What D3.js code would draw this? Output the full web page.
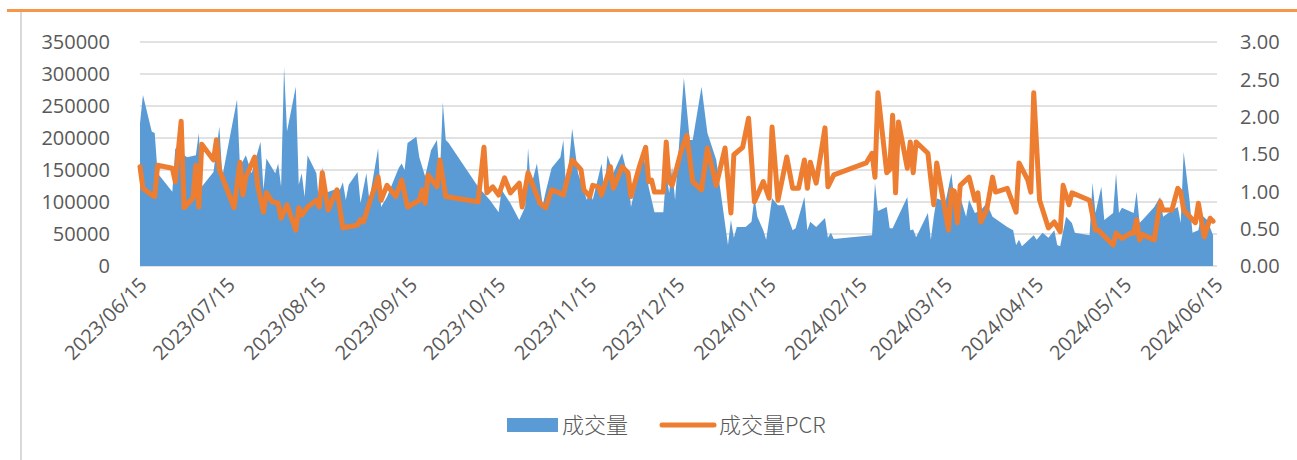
<!DOCTYPE html>
<html>
<head>
<meta charset="utf-8">
<script src="https://cdn.jsdelivr.net/npm/d3@7"></script>
<style>
	body { margin: 0; background: #ffffff; }
	.pcr-chart-tick { font-family: "Open Sans", "Noto Sans", sans-serif; font-size: 20px; fill: #595959; }
	.pcr-chart-legend { font-family: "Noto Sans CJK SC", "Open Sans", sans-serif; font-size: 22px; font-weight: 300; fill: #595959; }
</style>
</head>
<body>
<svg id="chart" width="1297" height="460"></svg>
<script>

var aVolumeDates = [
	'2023-06-15','2023-06-16','2023-06-19','2023-06-20','2023-06-21','2023-06-26','2023-06-27','2023-07-01','2023-07-04','2023-07-05',
	'2023-07-06','2023-07-10','2023-07-12','2023-07-13','2023-07-18','2023-07-19','2023-07-21','2023-07-23','2023-07-26','2023-07-27',
	'2023-07-28','2023-07-31','2023-08-01','2023-08-02','2023-08-03','2023-08-04','2023-08-07','2023-08-08','2023-08-09','2023-08-10',
	'2023-08-11','2023-08-14','2023-08-15','2023-08-16','2023-08-17','2023-08-20','2023-08-22','2023-08-23','2023-08-24','2023-08-25',
	'2023-08-28','2023-08-29','2023-08-31','2023-09-01','2023-09-04','2023-09-05','2023-09-07','2023-09-11','2023-09-12','2023-09-13',
	'2023-09-14','2023-09-17','2023-09-18','2023-09-20','2023-09-22','2023-09-24','2023-09-25','2023-09-26','2023-09-27','2023-09-28',
	'2023-10-08','2023-10-12','2023-10-15','2023-10-16','2023-10-19','2023-10-22','2023-10-24','2023-10-25','2023-10-26','2023-10-28',
	'2023-10-30','2023-10-31','2023-11-02','2023-11-05','2023-11-06','2023-11-07','2023-11-09','2023-11-11','2023-11-14','2023-11-15',
	'2023-11-16','2023-11-19','2023-11-20','2023-11-21','2023-11-23','2023-11-26','2023-11-28','2023-11-29','2023-12-01','2023-12-03',
	'2023-12-05','2023-12-07','2023-12-10','2023-12-11','2023-12-12','2023-12-13','2023-12-14','2023-12-17','2023-12-19','2023-12-20',
	'2023-12-23','2023-12-25','2023-12-28','2024-01-01','2024-01-02','2024-01-03','2024-01-04','2024-01-07','2024-01-09','2024-01-10',
	'2024-01-11','2024-01-13','2024-01-14','2024-01-16','2024-01-18','2024-01-20','2024-01-23','2024-01-24','2024-01-27','2024-01-28',
	'2024-01-29','2024-01-31','2024-02-03','2024-02-04','2024-02-05','2024-02-06','2024-02-19','2024-02-20','2024-02-21','2024-02-24',
	'2024-02-25','2024-02-26','2024-03-02','2024-03-03','2024-03-04','2024-03-05','2024-03-09','2024-03-10','2024-03-11','2024-03-12',
	'2024-03-15','2024-03-17','2024-03-18','2024-03-19','2024-03-20','2024-03-22','2024-03-23','2024-03-25','2024-03-27','2024-03-29',
	'2024-03-31','2024-04-05','2024-04-07','2024-04-08','2024-04-09','2024-04-10','2024-04-14','2024-04-15','2024-04-17','2024-04-19',
	'2024-04-21','2024-04-22','2024-04-23','2024-04-25','2024-04-27','2024-04-28','2024-05-03','2024-05-04','2024-05-05','2024-05-07',
	'2024-05-08','2024-05-11','2024-05-12','2024-05-13','2024-05-14','2024-05-18','2024-05-19','2024-05-20','2024-05-22','2024-05-25',
	'2024-05-27','2024-05-28','2024-05-31','2024-06-02','2024-06-03','2024-06-04','2024-06-06','2024-06-07','2024-06-09','2024-06-10',
	'2024-06-12','2024-06-14'
];

var aVolume = [
	223000,267000,210000,208000,145000,116000,184000,170000,173000,208000,
	124000,147000,218000,140000,260000,155000,173000,145000,194000,119000,
	168000,145000,160000,124000,311000,210000,280000,127000,145000,108000,
	173000,145000,92000,155000,114000,119000,119000,131000,103000,127000,
	147000,98000,145000,103000,184000,92000,108000,153000,160000,150000,
	192000,202000,170000,140000,181000,197000,140000,256000,197000,192000,
	124000,103000,84000,119000,98000,72000,92000,184000,124000,160000,
	95000,116000,153000,170000,197000,114000,215000,145000,103000,119000,
	103000,160000,114000,173000,145000,176000,139000,92000,134000,181000,
	124000,84000,84000,145000,114000,155000,103000,294000,197000,197000,
	280000,208000,166000,33000,72000,44000,61000,61000,69000,108000,
	77000,56000,41000,106000,95000,95000,56000,59000,108000,56000,
	69000,61000,75000,44000,52000,42000,48000,130000,86000,92000,
	59000,59000,108000,56000,57000,45000,83000,41000,77000,106000,
	100000,145000,103000,83000,108000,77000,103000,83000,87000,98000,
	77000,61000,56000,33000,41000,31000,48000,41000,52000,44000,
	56000,33000,31000,77000,67000,52000,48000,130000,83000,124000,
	72000,83000,145000,83000,91000,83000,116000,67000,77000,92000,
	108000,77000,87000,92000,67000,178000,103000,52000,56000,80000,
	72000,48000
];

var aPcrDates = [
	'2023-06-15','2023-06-16','2023-06-19','2023-06-20','2023-06-21','2023-06-26','2023-06-27','2023-06-29','2023-06-30','2023-07-03',
	'2023-07-04','2023-07-05','2023-07-06','2023-07-10','2023-07-11','2023-07-12','2023-07-17','2023-07-19','2023-07-20','2023-07-21',
	'2023-07-24','2023-07-25','2023-07-27','2023-07-28','2023-07-30','2023-08-01','2023-08-02','2023-08-04','2023-08-07','2023-08-08',
	'2023-08-09','2023-08-11','2023-08-14','2023-08-15','2023-08-16','2023-08-18','2023-08-21','2023-08-23','2023-08-24','2023-08-28',
	'2023-08-29','2023-08-30','2023-09-01','2023-09-04','2023-09-05','2023-09-07','2023-09-10','2023-09-12','2023-09-14','2023-09-18',
	'2023-09-19','2023-09-20','2023-09-21','2023-09-24','2023-09-25','2023-09-27','2023-10-08','2023-10-10','2023-10-11','2023-10-13',
	'2023-10-15','2023-10-17','2023-10-19','2023-10-22','2023-10-23','2023-10-25','2023-10-29','2023-10-31','2023-11-02','2023-11-04',
	'2023-11-06','2023-11-09','2023-11-12','2023-11-13','2023-11-15','2023-11-16','2023-11-18','2023-11-19','2023-11-22','2023-11-23',
	'2023-11-26','2023-11-28','2023-11-29','2023-12-02','2023-12-04','2023-12-05','2023-12-06','2023-12-07','2023-12-10','2023-12-11',
	'2023-12-12','2023-12-13','2023-12-16','2023-12-18','2023-12-20','2023-12-23','2023-12-25','2023-12-28','2023-12-31','2024-01-02',
	'2024-01-03','2024-01-06','2024-01-08','2024-01-10','2024-01-13','2024-01-15','2024-01-16','2024-01-18','2024-01-21','2024-01-23',
	'2024-01-25','2024-01-27','2024-01-28','2024-01-29','2024-01-31','2024-02-03','2024-02-04','2024-02-06','2024-02-17','2024-02-19',
	'2024-02-20','2024-02-21','2024-02-24','2024-02-25','2024-02-26','2024-02-27','2024-02-28','2024-03-02','2024-03-03','2024-03-04',
	'2024-03-05','2024-03-09','2024-03-11','2024-03-12','2024-03-16','2024-03-17','2024-03-18','2024-03-19','2024-03-20','2024-03-23',
	'2024-03-25','2024-03-26','2024-03-27','2024-03-29','2024-03-31','2024-04-01','2024-04-05','2024-04-08','2024-04-09','2024-04-12',
	'2024-04-13','2024-04-14','2024-04-16','2024-04-19','2024-04-21','2024-04-23','2024-04-24','2024-04-26','2024-04-27','2024-05-03',
	'2024-05-05','2024-05-06','2024-05-11','2024-05-12','2024-05-14','2024-05-17','2024-05-18','2024-05-19','2024-05-20','2024-05-21',
	'2024-05-25','2024-05-27','2024-05-28','2024-05-31','2024-06-02','2024-06-03','2024-06-04','2024-06-08','2024-06-09','2024-06-11',
	'2024-06-13','2024-06-14'
];

var aPcr = [
	1.33,1.04,0.95,0.93,1.35,1.31,1.13,1.94,0.78,0.91,
	1.35,0.79,1.63,1.42,1.69,1.29,0.78,1.39,0.95,1.19,
	1.46,1.08,0.72,0.98,0.86,0.84,0.64,0.82,0.48,0.78,
	0.68,0.79,0.88,0.79,1.25,0.75,1.02,0.51,0.52,0.55,
	0.62,0.59,0.84,1.19,0.88,1.08,0.93,1.15,0.79,0.88,
	1.02,0.84,1.22,1.06,1.42,0.93,0.86,1.59,0.98,1.06,
	0.95,1.18,0.98,1.11,0.79,1.25,0.84,0.78,1.02,0.99,
	0.95,1.42,1.29,1.02,0.93,1.08,1.06,0.95,1.33,1.04,
	1.33,1.25,0.93,1.35,1.59,1.13,1.15,0.99,0.99,1.66,
	1.13,1.08,1.53,1.75,1.13,1.02,1.58,1.08,1.58,0.71,
	1.49,1.59,1.98,0.86,1.13,0.91,1.86,0.88,1.46,1.04,
	1.04,1.42,1.04,1.39,1.11,1.85,1.06,1.22,1.38,1.51,
	1.19,2.32,1.25,1.29,2.02,0.98,1.93,1.31,1.66,1.25,
	1.66,1.51,0.82,1.38,0.48,1.02,1.00,0.58,1.08,1.19,
	0.88,0.98,0.59,0.75,1.19,0.99,1.04,0.72,1.38,1.15,
	0.99,2.32,0.88,0.51,0.59,0.46,1.08,0.82,0.98,0.88,
	0.48,0.48,0.28,0.44,0.37,0.44,0.44,0.62,0.35,0.42,
	0.35,0.86,0.75,0.75,1.04,0.99,0.75,0.58,0.84,0.39,
	0.64,0.60
];

var aVolumeTicks = [0, 50000, 100000, 150000, 200000, 250000, 300000, 350000];
var aPcrTicks = [0, 0.5, 1, 1.5, 2, 2.5, 3];
var aMonthTicks = ['2023-06-15','2023-07-15','2023-08-15','2023-09-15','2023-10-15','2023-11-15','2023-12-15',
	'2024-01-15','2024-02-15','2024-03-15','2024-04-15','2024-05-15','2024-06-15'];
var aSeriesNames = ['成交量', '成交量PCR'];


var sSvg = d3.select('#chart');
const strCssClassPrefix = 'pcr-chart-';
const strBlue = '#5b9bd5';
const strOrange = '#ed7d31';

var nPlotLeft = 140;
var nPlotRight = 1216;
var nPlotTop = 42;
var nPlotBottom = 266;

var fParse = d3.timeParse('%Y-%m-%d');
var fFormat = d3.timeFormat('%Y/%m/%d');

var aVolumeRows = aVolumeDates.map(function(strDate, i)
	{
		return { date: fParse(strDate), value: aVolume[i] };
	});
var aPcrRows = aPcrDates.map(function(strDate, i)
	{
		return { date: fParse(strDate), value: aPcr[i] };
	});

var scaleX = d3.scaleTime()
	.domain([fParse(aMonthTicks[0]), fParse(aMonthTicks[aMonthTicks.length-1])])
	.range([nPlotLeft, nPlotRight]);

var scaleY = d3.scaleLinear()
	.domain([0, 350000])
	.range([nPlotBottom, nPlotTop]);

var scaleY2 = d3.scaleLinear()
	.domain([0, 3])
	.range([nPlotBottom, nPlotTop]);

// frame: orange top rule and grey left edge
sSvg.append('line')
	.attr('x1', 7).attr('x2', 1297)
	.attr('y1', 10.5).attr('y2', 10.5)
	.attr('stroke', '#f79646')
	.attr('stroke-width', 3);

sSvg.append('line')
	.attr('x1', 21).attr('x2', 21)
	.attr('y1', 12).attr('y2', 460)
	.attr('stroke', '#d9d9d9')
	.attr('stroke-width', 2);

// gridlines
sSvg.append('g')
	.selectAll('line')
	.data(aVolumeTicks)
	.enter()
		.append('line')
			.attr('x1', nPlotLeft)
			.attr('x2', nPlotRight + 1)
			.attr('y1', function(d) { return scaleY(d); })
			.attr('y2', function(d) { return scaleY(d); })
			.attr('stroke', '#d9d9d9')
			.attr('stroke-width', 1.3);

// volume area
var fArea = d3.area()
	.x(function(row) { return scaleX(row.date); })
	.y0(scaleY(0))
	.y1(function(row) { return scaleY(row.value); });

sSvg.append('path')
	.datum(aVolumeRows)
	.attr('class', strCssClassPrefix+'area')
	.attr('fill', strBlue)
	.attr('d', fArea);

// pcr line
var fLine = d3.line()
	.x(function(row) { return scaleX(row.date); })
	.y(function(row) { return scaleY2(row.value); });

sSvg.append('path')
	.datum(aPcrRows)
	.attr('class', strCssClassPrefix+'line')
	.attr('fill', 'none')
	.attr('stroke', strOrange)
	.attr('stroke-width', 5)
	.attr('stroke-linejoin', 'round')
	.attr('stroke-linecap', 'round')
	.attr('d', fLine);

// left axis labels
sSvg.append('g')
	.selectAll('text')
	.data(aVolumeTicks)
	.enter()
		.append('text')
			.attr('class', strCssClassPrefix+'tick')
			.attr('x', 110)
			.attr('y', function(d) { return scaleY(d); })
			.attr('dy', '0.36em')
			.style('text-anchor', 'end')
			.text(function(d) { return d3.format('d')(d); });

// right axis labels
sSvg.append('g')
	.selectAll('text')
	.data(aPcrTicks)
	.enter()
		.append('text')
			.attr('class', strCssClassPrefix+'tick')
			.attr('x', 1240)
			.attr('y', function(d) { return scaleY2(d); })
			.attr('dy', '0.36em')
			.style('text-anchor', 'start')
			.text(function(d) { return d3.format('.2f')(d); });

// date labels, rotated
sSvg.append('g')
	.selectAll('text')
	.data(aMonthTicks)
	.enter()
		.append('text')
			.attr('class', strCssClassPrefix+'tick')
			.attr('transform', function(d)
				{
					return 'translate(' + (scaleX(fParse(d)) + 3) + ',281) rotate(-45)';
				})
			.attr('dy', '0.36em')
			.style('text-anchor', 'end')
			.text(function(d) { return fFormat(fParse(d)); });

// legend
var sLegend = sSvg.append('g');

sLegend.append('rect')
	.attr('x', 507).attr('y', 418)
	.attr('width', 51).attr('height', 14)
	.attr('fill', strBlue);

sLegend.append('text')
	.attr('class', strCssClassPrefix+'legend')
	.attr('x', 562).attr('y', 425)
	.attr('dy', '0.36em')
	.text(aSeriesNames[0]);

sLegend.append('line')
	.attr('x1', 662).attr('x2', 714)
	.attr('y1', 425).attr('y2', 425)
	.attr('stroke', strOrange)
	.attr('stroke-width', 5)
	.attr('stroke-linecap', 'round');

sLegend.append('text')
	.attr('class', strCssClassPrefix+'legend')
	.attr('x', 719).attr('y', 425)
	.attr('dy', '0.36em')
	.text(aSeriesNames[1]);

</script>
</body>
</html>
